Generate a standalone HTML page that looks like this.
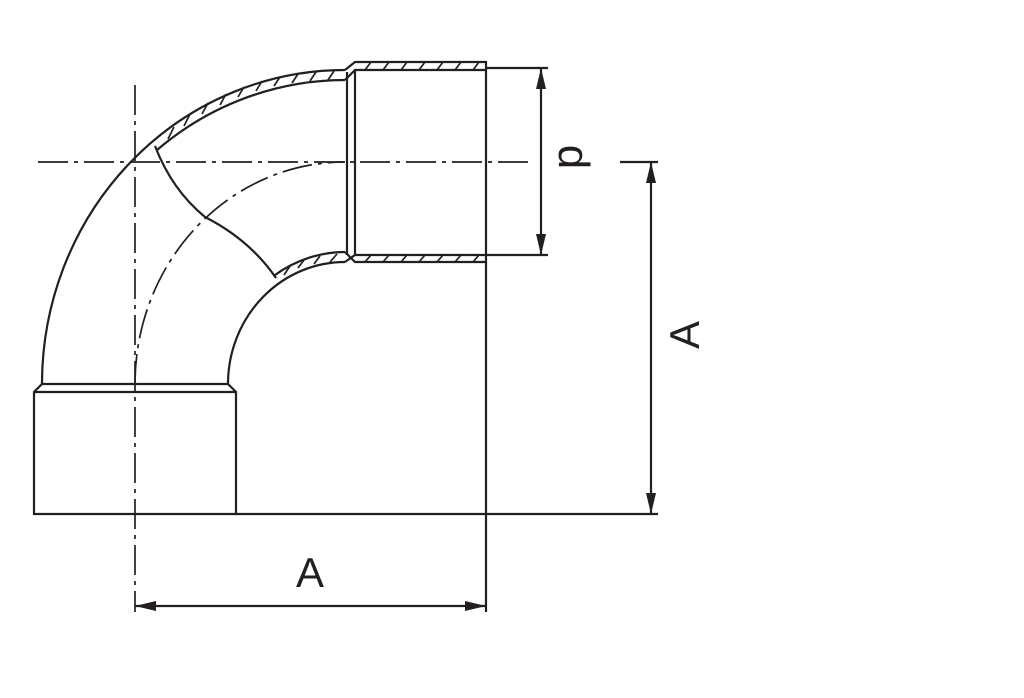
<!DOCTYPE html>
<html><head><meta charset="utf-8"><style>
html,body{margin:0;padding:0;background:#fff;}
svg{display:block;}
text{font-family:"Liberation Sans",sans-serif;fill:#231f20;}
</style></head><body>
<svg width="1024" height="698" viewBox="0 0 1024 698" xmlns="http://www.w3.org/2000/svg">
<g fill="none" stroke="#231f20" stroke-width="2.2">
<path d="M42,384 A303,314 0 0 1 345,70"/>
<path d="M157,150 A295,304 0 0 1 345,80"/>
<path d="M228,384 A117,122 0 0 1 345,262"/>
<path d="M275,275 A125,132 0 0 1 345,252"/>
<path d="M155,146 Q172,190 205,217 Q250,240 276,278"/>
<path d="M345,70 L355,62 L486,62 L486,262 L355,262 L345,252"/>
<path d="M345,80 L355,70 L486,70"/>
<path d="M345,262 L355,255 L486,255"/>
<line x1="347" y1="72" x2="347" y2="255"/>
<line x1="355" y1="70" x2="355" y2="255"/>
<path d="M42,384 L228,384 L236,392 L236,514 L34,514 L34,392 Z"/>
<line x1="34" y1="392" x2="236" y2="392"/>
<line x1="236" y1="514" x2="658" y2="514"/>
<line x1="486" y1="262" x2="486" y2="612"/>
<line x1="486" y1="68" x2="548" y2="68"/>
<line x1="486" y1="255" x2="548" y2="255"/>
<line x1="620" y1="162" x2="658" y2="162"/>
</g>
<g stroke="#231f20" stroke-width="1.7">
<line x1="365" y1="70" x2="371" y2="62"/><line x1="383" y1="70" x2="389" y2="62"/>
<line x1="401" y1="70" x2="407" y2="62"/><line x1="419" y1="70" x2="425" y2="62"/>
<line x1="437" y1="70" x2="443" y2="62"/><line x1="455" y1="70" x2="461" y2="62"/>
<line x1="473" y1="70" x2="479" y2="62"/>
<line x1="365" y1="262" x2="371" y2="255"/><line x1="383" y1="262" x2="389" y2="255"/>
<line x1="401" y1="262" x2="407" y2="255"/><line x1="419" y1="262" x2="425" y2="255"/>
<line x1="437" y1="262" x2="443" y2="255"/><line x1="455" y1="262" x2="461" y2="255"/>
<line x1="473" y1="262" x2="479" y2="255"/>
<line x1="328" y1="80" x2="334" y2="71"/><line x1="310" y1="81" x2="316" y2="72"/>
<line x1="292" y1="83" x2="298" y2="74"/><line x1="274" y1="86" x2="280" y2="77"/>
<line x1="256" y1="91" x2="262" y2="81"/><line x1="238" y1="97" x2="244" y2="87"/>
<line x1="220" y1="105" x2="226" y2="94"/><line x1="202" y1="114" x2="208" y2="103"/>
<line x1="184" y1="126" x2="190" y2="114"/><line x1="168" y1="139" x2="174" y2="127"/>
<line x1="330" y1="262" x2="337" y2="254"/><line x1="314" y1="264" x2="320" y2="256"/>
<line x1="298" y1="268" x2="304" y2="260"/><line x1="284" y1="275" x2="290" y2="266"/>
</g>
<g fill="none" stroke="#231f20" stroke-width="1.7" stroke-dasharray="30,6,4,6">
<line x1="38" y1="162" x2="530" y2="162"/>
<line x1="135" y1="85" x2="135" y2="612"/>
<path d="M135,384 A210,222 0 0 1 345,162"/>
</g>
<g stroke="#231f20" stroke-width="2.2" fill="none">
<line x1="135" y1="606" x2="486" y2="606"/>
<line x1="651" y1="162" x2="651" y2="514"/>
<line x1="541" y1="68" x2="541" y2="255"/>
</g>
<g fill="#231f20">
<polygon points="135,606 156,601 156,611"/>
<polygon points="486,606 465,601 465,611"/>
<polygon points="651,162 646,183 656,183"/>
<polygon points="651,514 646,493 656,493"/>
<polygon points="541,68 536,89 546,89"/>
<polygon points="541,255 536,234 546,234"/>
</g>
<text x="310" y="587" font-size="42" text-anchor="middle">A</text>
<text x="0" y="0" font-size="42" text-anchor="middle" transform="translate(699,335) rotate(-90)">A</text>
<text x="0" y="0" font-size="44" text-anchor="middle" transform="translate(559,157) rotate(90)">d</text>
</svg>
</body></html>
